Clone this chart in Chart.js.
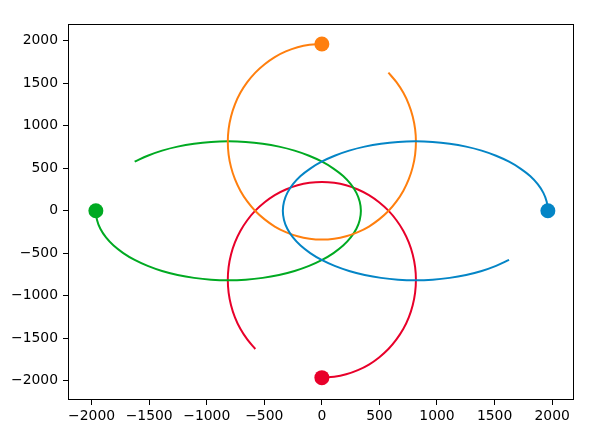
<!DOCTYPE html>
<html>
<head>
<meta charset="utf-8">
<script src="https://cdn.jsdelivr.net/npm/chart.js@4/dist/chart.umd.min.js"></script>
<style>
  html, body { margin: 0; padding: 0; background: #fff; }
  #wrap { width: 607px; height: 436px; }
</style>
</head>
<body>
<div id="wrap"><canvas id="orbits" width="607" height="436"></canvas></div>
<script>
// --- DATA ---

// blue body: path, first point is the current position (the dot)
const blueX = [1963, 1953, 1924, 1875, 1809, 1725, 1626, 1513, 1388, 1253, 1110, 962, 812, 662, 514, 372, 237, 111, -2, -101, -185, -251, -300, -329, -339,
    -329, -300, -251, -185, -101, -2, 111, 237, 372, 514, 662, 812, 962, 1110, 1253, 1388, 1513, 1626];
const blueY = [0, 107, 211, 313, 409, 497, 578, 648, 708, 755, 789, 810, 817, 810, 789, 755, 708, 648, 578, 497, 409, 313, 211, 107, 0,
    -107, -211, -313, -409, -497, -578, -648, -708, -755, -789, -810, -817, -810, -789, -755, -708, -648, -578];

// orange body
const orangeX = [0, -107, -211, -313, -409, -497, -578, -648, -708, -755, -789, -810, -817, -810, -789, -755, -708, -648, -578, -497, -409, -313, -211, -107, 0,
    107, 211, 313, 409, 497, 578, 648, 708, 755, 789, 810, 817, 810, 789, 755, 708, 648, 578];
const orangeY = [1963, 1953, 1924, 1875, 1809, 1725, 1626, 1513, 1388, 1253, 1110, 962, 812, 662, 514, 372, 237, 111, -2, -101, -185, -251, -300, -329, -339,
    -329, -300, -251, -185, -101, -2, 111, 237, 372, 514, 662, 812, 962, 1110, 1253, 1388, 1513, 1626];

// green body
const greenX = [-1963, -1953, -1924, -1875, -1809, -1725, -1626, -1513, -1388, -1253, -1110, -962, -812, -662, -514, -372, -237, -111, 2, 101, 185, 251, 300, 329, 339,
    329, 300, 251, 185, 101, 2, -111, -237, -372, -514, -662, -812, -962, -1110, -1253, -1388, -1513, -1626];
const greenY = [0, -107, -211, -313, -409, -497, -578, -648, -708, -755, -789, -810, -817, -810, -789, -755, -708, -648, -578, -497, -409, -313, -211, -107, 0,
    107, 211, 313, 409, 497, 578, 648, 708, 755, 789, 810, 817, 810, 789, 755, 708, 648, 578];

// red body
const redX = [0, 107, 211, 313, 409, 497, 578, 648, 708, 755, 789, 810, 817, 810, 789, 755, 708, 648, 578, 497, 409, 313, 211, 107, 0,
    -107, -211, -313, -409, -497, -578, -648, -708, -755, -789, -810, -817, -810, -789, -755, -708, -648, -578];
const redY = [-1963, -1953, -1924, -1875, -1809, -1725, -1626, -1513, -1388, -1253, -1110, -962, -812, -662, -514, -372, -237, -111, 2, 101, 185, 251, 300, 329, 339,
    329, 300, 251, 185, 101, 2, -111, -237, -372, -514, -662, -812, -962, -1110, -1253, -1388, -1513, -1626];

const xTicks = [-2000, -1500, -1000, -500, 0, 500, 1000, 1500, 2000];
const yTicks = [-2000, -1500, -1000, -500, 0, 500, 1000, 1500, 2000];

const COLORS = { blue: '#0485c6', orange: '#ff7f0e', green: '#00aa22', red: '#e8002a' };

// --- HELPERS ---

function toPoints(xs, ys) {
    return xs.map((x, i) => ({ x: x, y: ys[i] }));
}

function pathSet(xs, ys, color) {
    return {
        data: toPoints(xs, ys),
        showLine: true,
        borderColor: color,
        borderWidth: 2,
        pointRadius: 0,
        tension: 0.33,
        order: 1
    };
}

function dotSet(xs, ys, color) {
    return {
        data: [{ x: xs[0], y: ys[0] }],
        showLine: false,
        pointRadius: 7.5,
        pointBackgroundColor: color,
        pointBorderWidth: 0,
        order: 0
    };
}

const tickLabel = v => (v < 0 ? '\u2212' + Math.abs(v) : String(v));

// matplotlib style frame around the axes
const framePlugin = {
    id: 'frame',
    afterDraw(chart) {
        const a = chart.chartArea;
        const ctx = chart.ctx;
        ctx.save();
        ctx.strokeStyle = '#000';
        ctx.lineWidth = 1;
        ctx.strokeRect(Math.round(a.left) + 0.5, Math.round(a.top) + 0.5,
            Math.round(a.right - a.left) - 1, Math.round(a.bottom - a.top) - 1);
        ctx.restore();
    }
};

const axisCommon = {
    type: 'linear',
    border: { display: false },
    grid: { display: true, drawOnChartArea: false, drawTicks: true, tickLength: 5, color: '#000', lineWidth: 1 },
    ticks: {
        color: '#000',
        font: { family: 'DejaVu Sans', size: 13.9 },
        callback: tickLabel
    }
};

new Chart(document.getElementById('orbits'), {
    type: 'scatter',
    data: {
        datasets: [
            pathSet(blueX, blueY, COLORS.blue),
            pathSet(orangeX, orangeY, COLORS.orange),
            pathSet(greenX, greenY, COLORS.green),
            pathSet(redX, redY, COLORS.red),
            dotSet(blueX, blueY, COLORS.blue),
            dotSet(orangeX, orangeY, COLORS.orange),
            dotSet(greenX, greenY, COLORS.green),
            dotSet(redX, redY, COLORS.red)
        ]
    },
    options: {
        responsive: false,
        animation: false,
        devicePixelRatio: 1,
        layout: { padding: { top: 24, right: 33, left: 0, bottom: 0 } },
        plugins: { legend: { display: false }, tooltip: { enabled: false } },
        scales: {
            x: {
                ...axisCommon,
                min: -2205, max: 2190,
                afterBuildTicks: axis => { axis.ticks = xTicks.map(v => ({ value: v })); },
                afterFit: axis => { axis.height = 36; },
                ticks: { ...axisCommon.ticks, padding: 3, maxRotation: 0, autoSkip: false }
            },
            y: {
                ...axisCommon,
                min: -2226, max: 2198,
                afterBuildTicks: axis => { axis.ticks = yTicks.map(v => ({ value: v })); },
                afterFit: axis => { axis.width = 68; },
                ticks: { ...axisCommon.ticks, padding: 5, autoSkip: false }
            }
        }
    },
    plugins: [framePlugin]
});
</script>
</body>
</html>
